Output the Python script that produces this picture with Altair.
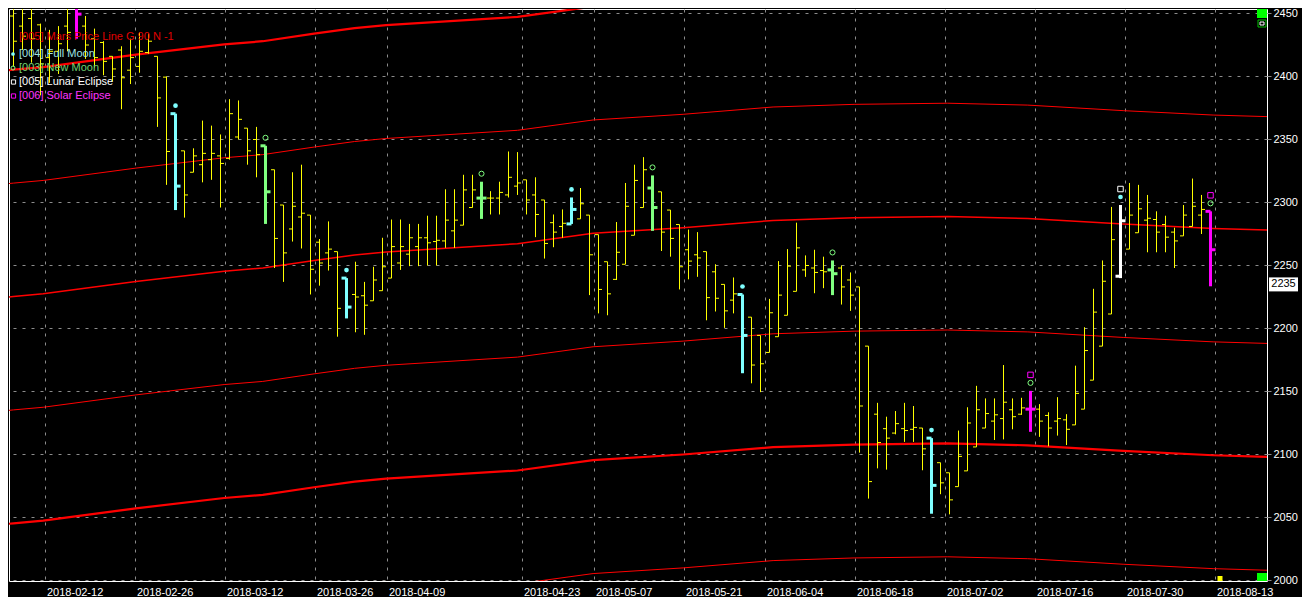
import altair as alt
import pandas as pd

# ---------------- data ----------------
opens = [2448, 2440, 2446, 2441, 2415, 2420, 2440, 2458, 2440, 2430,
         2427, 2416, 2421, 2405, 2408, 2419, 2416, 2399.5, 2370.5, 2341,
         2324, 2330, 2334, 2337, 2335, 2352, 2359, 2350, 2345, 2326,
         2298, 2279, 2288.5, 2290, 2268.5, 2260, 2261, 2240, 2227, 2226,
         2222, 2230, 2240, 2252, 2259, 2265, 2272, 2269, 2269.5, 2277.5,
         2282, 2296, 2303.5, 2303.5, 2303.5, 2306, 2313, 2318, 2306, 2302,
         2284, 2281, 2283, 2287, 2290, 2274.5, 2253, 2239, 2251, 2274,
         2296, 2311.5, 2308.5, 2294, 2282.5, 2262.5, 2258.5, 2261, 2245, 2235,
         2222.5, 2227, 2209, 2194.5, 2181, 2193.5, 2210.5, 2229.5, 2246.5, 2248,
         2246, 2246.5, 2248, 2238.5, 2233, 2186, 2132, 2120.5, 2117, 2120.5,
         2120, 2121, 2113, 2093.5, 2085.5, 2074.5, 2087, 2106, 2121, 2126.5,
         2128.5, 2135.5, 2132, 2136, 2136, 2131, 2126.5, 2127.5, 2123.5, 2136,
         2159, 2186, 2211.5, 2241.5, 2263, 2276, 2286, 2286.5, 2282.5, 2276.5,
         2273.5, 2281, 2290, 2293]
highs = [2462, 2460, 2462, 2442, 2437, 2440, 2458, 2465, 2448, 2438,
         2428, 2416, 2424, 2430, 2435, 2434, 2416, 2400, 2370.5, 2341,
         2343, 2365, 2361, 2354, 2382, 2381, 2359, 2360, 2345, 2326,
         2298, 2324, 2330, 2290, 2271, 2285, 2261, 2240, 2253, 2237,
         2249, 2272, 2286.5, 2286.5, 2283, 2283, 2289.5, 2289.5, 2310.5, 2310.5,
         2322, 2322, 2316.5, 2309, 2316.5, 2340.5, 2340, 2318, 2320, 2302,
         2290.5, 2294.5, 2304, 2311.5, 2290, 2274.5, 2253, 2284.5, 2315.5, 2330,
         2336, 2321.5, 2308.5, 2294, 2282.5, 2278.5, 2276.5, 2261, 2251, 2235,
         2240.5, 2227, 2209, 2194.5, 2223.5, 2253.5, 2263, 2284, 2258, 2262.5,
         2257, 2254, 2250, 2244.5, 2233, 2186, 2141, 2130, 2134.5, 2141,
         2138.5, 2121, 2113, 2093.5, 2085.5, 2119, 2137.5, 2154.5, 2144.5, 2144.5,
         2171, 2144.5, 2145, 2150.5, 2140, 2133.5, 2145.5, 2132, 2170.5, 2201,
         2231.5, 2254, 2296.5, 2298, 2315.5, 2314, 2306, 2293, 2289.5, 2280,
         2298, 2319, 2306, 2293]
lows = [2408, 2421, 2411, 2385, 2395, 2402, 2420, 2430, 2414, 2407,
        2401, 2396, 2374, 2394, 2403, 2418, 2360, 2314, 2294, 2288,
        2324, 2316, 2318, 2296, 2334, 2350, 2330, 2320, 2283, 2248,
        2237, 2269, 2263.5, 2227, 2234, 2246, 2193.5, 2208, 2197, 2195,
        2222, 2230, 2240, 2246.5, 2249.5, 2249.5, 2250, 2250, 2264, 2264,
        2282, 2296, 2287, 2290.5, 2290.5, 2304, 2306, 2290.5, 2272.5, 2255.5,
        2264.5, 2272, 2283, 2287, 2226.5, 2212, 2210.5, 2238.5, 2251, 2274,
        2296, 2277.5, 2261.5, 2257, 2231, 2239, 2241, 2206.5, 2213.5, 2200.5,
        2212, 2164.5, 2156.5, 2149.5, 2181, 2193.5, 2210.5, 2229.5, 2241, 2228,
        2232, 2226.5, 2219, 2214, 2101.5, 2065, 2089, 2088, 2116, 2110,
        2110, 2087.5, 2053, 2068.5, 2052.5, 2074.5, 2087, 2106, 2121, 2111.5,
        2112, 2120, 2131.5, 2118, 2114, 2106.5, 2115, 2107.5, 2123.5, 2136,
        2159, 2186, 2211.5, 2240, 2263, 2276, 2260.5, 2260.5, 2260.5, 2248,
        2273.5, 2281, 2275, 2233.5]
closes = [2428, 2432, 2430, 2410, 2420, 2426, 2435, 2449.5, 2425, 2415,
          2412, 2406, 2399, 2415, 2420, 2428, 2383, 2340.5, 2313, 2306,
          2337, 2339, 2339, 2331, 2370.5, 2366, 2341, 2338, 2308.5, 2271.5,
          2260, 2297, 2291.5, 2247, 2252, 2263, 2216, 2217, 2225, 2218.5,
          2238.5, 2249, 2265, 2265, 2272, 2272, 2268, 2270, 2286, 2286,
          2310, 2310, 2303.5, 2303.5, 2308, 2320, 2315.5, 2302, 2290.5, 2267.5,
          2276.5, 2283.5, 2294.5, 2299, 2258.5, 2231, 2227.5, 2260.5, 2297, 2317.5,
          2326, 2296, 2276.5, 2271.5, 2249, 2253.5, 2256, 2224.5, 2224, 2214,
          2227.5, 2194.5, 2171, 2172, 2212.5, 2226.5, 2249.5, 2264, 2250, 2244.5,
          2245, 2243.5, 2233, 2226.5, 2138.5, 2078.5, 2109.5, 2113, 2124.5, 2119,
          2121.5, 2104.5, 2075.5, 2077.5, 2064, 2098.5, 2125, 2135.5, 2132.5, 2131.5,
          2141.5, 2130, 2137, 2136, 2126.5, 2121, 2128.5, 2120, 2148.5, 2182.5,
          2213, 2237.5, 2270.5, 2285.5, 2290, 2295, 2287.5, 2276.5, 2272.5, 2269.5,
          2290, 2297, 2294.5, 2262.5]

# bar numbers carrying astro events
full_moon = [18, 37, 62, 81, 102, 123]
new_moon = [7, 28, 52, 71, 91, 113, 133]
solar_eclipse = [7, 113, 133]
lunar_eclipse = [123]

# date labels and the bar they start on
tick_bars = [4, 14, 24, 34, 42, 57, 65, 75, 84, 94, 104, 114, 124, 134]
tick_labels = ["2018-02-12", "2018-02-26", "2018-03-12", "2018-03-26", "2018-04-09",
               "2018-04-23", "2018-05-07", "2018-05-21", "2018-06-04", "2018-06-18",
               "2018-07-02", "2018-07-16", "2018-07-30", "2018-08-13"]
price_ticks = [2000, 2050, 2100, 2150, 2200, 2250, 2300, 2350, 2400, 2450]

# Mars price line: base curve (bar number, price) and its 90-point harmonics
mars_k = [-0.7, 0, 3.3, 13.6, 23.4, 27.7, 33.4, 37.9, 41.4, 56, 64.4, 74.4,
          84.4, 93.4, 103.8, 112.7, 123.3, 133.3, 141]
mars_base = [2044.9, 2045.4, 2047.5, 2057.3, 2065.5, 2068.0, 2074.0, 2078.4, 2080.8,
             2087.3, 2095.5, 2100.0, 2105.8, 2107.9, 2108.8, 2107.3, 2102.9, 2099.4, 2097.8]
mars_gap = 90
harmonics = [-1, 0, 1, 2, 3, 4]

last_price = 2235
future_bar = 134

legend_labels = ["[005] Mars Price Line G 90 N -1", "[004] Full Moon", "[003] New Moon",
                 "[005] Lunar Eclipse", "[006] Solar Eclipse"]

# ---------------- styling / layout ----------------
YELLOW = "#ffff00"
CYAN = "#7fffff"
GREEN = "#80ff80"
MAGENTA = "#ff00ff"
WHITE = "#ffffff"
RED = "#ff0000"
GRID = "#8c8c8c"
FONT = "Liberation Sans"

W, H = 1258, 572
x_lo = -0.5
x_hi = x_lo + W / 9.0
y_hi = 2450 + 4.5 / 1.26
y_lo = y_hi - H / 1.26

ks = list(range(len(opens)))


def kind(k):
    if k in solar_eclipse:
        return "solar"
    if k in lunar_eclipse:
        return "lunar"
    if k in full_moon:
        return "full"
    if k in new_moon:
        return "new"
    return "plain"


bars = pd.DataFrame({"k": ks, "open": opens, "high": highs, "low": lows, "close": closes})
bars["kind"] = [kind(k) for k in ks]
bars["full"] = bars["k"].isin(full_moon)
bars["new"] = bars["k"].isin(new_moon)
bars["solar"] = bars["k"].isin(solar_eclipse)
bars["lunar"] = bars["k"].isin(lunar_eclipse)

line_rows = []
for n in harmonics:
    for kk, b in zip(mars_k, mars_base):
        line_rows.append({"k": kk, "price": b + mars_gap * n, "n": n})
lines = pd.DataFrame(line_rows)

tick_vals = [k - 5.0 / 9.0 for k in tick_bars]
label_expr = ("[" + ",".join(repr(s) for s in tick_labels) + "][indexof(["
              + ",".join(repr(v) for v in tick_vals) + "], datum.value)]")

xscale = alt.Scale(domain=[x_lo, x_hi], nice=False, zero=False)
yscale = alt.Scale(domain=[y_lo, y_hi], nice=False, zero=False)
xaxis = alt.Axis(orient="bottom", values=tick_vals, labelExpr=label_expr, title=None,
                 grid=True, gridColor=GRID, gridDash=[3, 6], gridWidth=1,
                 ticks=False, domain=False, labelAlign="left", labelBaseline="top",
                 labelPadding=5, labelOffset=2, labelColor=WHITE, labelFont=FONT,
                 labelFontSize=11, labelFlush=False, labelOverlap=False)
yaxis = alt.Axis(orient="right", values=price_ticks, format="d", title=None, grid=True,
                 gridColor=GRID, gridDash=[3, 6], gridWidth=1, ticks=True,
                 tickColor=GRID, tickSize=4, domain=False, labelColor=WHITE,
                 labelFont=FONT, labelFontSize=11, labelPadding=2,
                 labelFlush=False, labelOverlap=False)


def X(f):
    return alt.X(f, type="quantitative", scale=xscale, axis=xaxis)


def Y(f):
    return alt.Y(f, type="quantitative", scale=yscale, axis=yaxis)


layers = []

# Mars price lines
for ns, w in [([-1, 1, 3], 1), ([2], 1.5), ([0, 4], 2.2)]:
    layers.append(
        alt.Chart(lines)
        .transform_filter(alt.FieldOneOfPredicate(field="n", oneOf=ns))
        .mark_line(color=RED, strokeWidth=w, clip=True)
        .encode(x=X("k"), y=Y("price"), detail="n:N", order="k:Q")
    )

# plain OHLC bars
base = alt.Chart(bars)
plain = base.transform_filter("datum.kind == 'plain'")
layers.append(plain.mark_rule(color=YELLOW, strokeWidth=1, clip=True)
              .encode(x=X("k"), y=Y("low"), y2="high"))
layers.append(plain.mark_rule(color=YELLOW, strokeWidth=1, clip=True, xOffset=-3.5, x2Offset=0)
              .encode(x=X("k"), x2="k", y=Y("open")))
layers.append(plain.mark_rule(color=YELLOW, strokeWidth=1, clip=True, xOffset=0, x2Offset=3.5)
              .encode(x=X("k"), x2="k", y=Y("close")))

# event bars (thick, coloured)
kinds = ["full", "new", "lunar", "solar"]
kind_colors = [CYAN, GREEN, WHITE, MAGENTA]
ev = base.transform_filter("datum.kind != 'plain'")
cenc = alt.Color("kind:N", scale=alt.Scale(domain=kinds, range=kind_colors), legend=None)
layers.append(ev.mark_rule(strokeWidth=3, clip=True)
              .encode(x=X("k"), y=Y("low"), y2="high", color=cenc))
layers.append(ev.mark_rule(strokeWidth=3, clip=True, xOffset=-5, x2Offset=0)
              .encode(x=X("k"), x2="k", y=Y("open"), color=cenc))
layers.append(ev.mark_rule(strokeWidth=3, clip=True, xOffset=0, x2Offset=5)
              .encode(x=X("k"), x2="k", y=Y("close"), color=cenc))

# event markers above the bars
layers.append(base.transform_filter("datum.full")
              .mark_point(shape="circle", filled=True, size=22, color=CYAN, opacity=1,
                          yOffset=-8, clip=True)
              .encode(x=X("k"), y=Y("high")))
layers.append(base.transform_filter("datum.new")
              .mark_point(shape="circle", filled=False, size=26, color=GREEN, opacity=1,
                          strokeWidth=1, yOffset=-8, clip=True)
              .encode(x=X("k"), y=Y("high")))
layers.append(base.transform_filter("datum.solar")
              .mark_point(shape="square", filled=False, size=30, color=MAGENTA, opacity=1,
                          strokeWidth=1, yOffset=-16, clip=True)
              .encode(x=X("k"), y=Y("high")))
layers.append(base.transform_filter("datum.lunar")
              .mark_point(shape="square", filled=False, size=30, color=WHITE, opacity=1,
                          strokeWidth=1, yOffset=-16, clip=True)
              .encode(x=X("k"), y=Y("high")))

# legend block (top-left)
one = pd.DataFrame({"a": [0]})
legend_y = [28, 45, 59, 73, 87]
legend_colors = ["#e00000", "#9fe3e3", "#70d070", WHITE, "#ff33ff"]
for lab, ly, lc in zip(legend_labels, legend_y, legend_colors):
    layers.append(alt.Chart(one).mark_text(align="left", baseline="middle", font=FONT,
                                           fontSize=11, color=lc)
                  .encode(x=alt.value(10), y=alt.value(ly), text=alt.value(lab)))
layers.append(alt.Chart(one).mark_point(shape="circle", filled=True, size=14, color=CYAN, opacity=1)
              .encode(x=alt.value(4), y=alt.value(legend_y[1])))
layers.append(alt.Chart(one).mark_point(shape="circle", filled=False, size=16, color=GREEN,
                                        opacity=1, strokeWidth=1)
              .encode(x=alt.value(4), y=alt.value(legend_y[2])))
layers.append(alt.Chart(one).mark_point(shape="square", filled=False, size=18, color=WHITE,
                                        opacity=1, strokeWidth=1)
              .encode(x=alt.value(4.5), y=alt.value(legend_y[3])))
layers.append(alt.Chart(one).mark_point(shape="square", filled=False, size=18, color=MAGENTA,
                                        opacity=1, strokeWidth=1)
              .encode(x=alt.value(4.5), y=alt.value(legend_y[4])))

# last price box on the price axis
layers.append(alt.Chart(one).mark_rect(color=WHITE, yOffset=-7, y2Offset=7)
              .encode(x=alt.value(W + 2), x2=alt.value(W + 31),
                      y=alt.YDatum(last_price, type="quantitative", scale=yscale, axis=yaxis),
                      y2=alt.Y2Datum(last_price)))
layers.append(alt.Chart(one).mark_text(color="#000000", align="center", baseline="middle",
                                       font=FONT, fontSize=11)
              .encode(x=alt.value(W + 16.5),
                      y=alt.YDatum(last_price, type="quantitative", scale=yscale, axis=yaxis),
                      text=alt.value(str(last_price))))

# chart chrome: green corner boxes and the next-bar marker
layers.append(alt.Chart(one).mark_rect(color="#00ff00")
              .encode(x=alt.value(W - 10), x2=alt.value(W), y=alt.value(0), y2=alt.value(9)))
layers.append(alt.Chart(one).mark_rect(fill="#000000", stroke="#00c000", strokeWidth=1)
              .encode(x=alt.value(W - 9), x2=alt.value(W - 1), y=alt.value(11), y2=alt.value(18)))
layers.append(alt.Chart(one).mark_rect(fill="#000000", stroke=WHITE, strokeWidth=1)
              .encode(x=alt.value(W - 7), x2=alt.value(W - 3), y=alt.value(13), y2=alt.value(16)))
layers.append(alt.Chart(one).mark_rect(color="#00ff00")
              .encode(x=alt.value(W - 10), x2=alt.value(W), y=alt.value(H - 8), y2=alt.value(H)))
layers.append(alt.Chart(one).mark_rect(color=YELLOW, xOffset=-2, x2Offset=3)
              .encode(x=alt.XDatum(future_bar, type="quantitative", scale=xscale, axis=xaxis),
                      x2=alt.X2Datum(future_bar), y=alt.value(H - 5), y2=alt.value(H)))

chart = (
    alt.layer(*layers)
    .properties(width=W, height=H, autosize=alt.AutoSizeParams(type="none"),
                padding={"left": 1, "top": 1, "right": 35, "bottom": 16})
    .configure(background="#000000")
    .configure_view(stroke=WHITE, strokeWidth=1, fill="#000000")
)

chart.save("out.html", embed_options={"renderer": "svg", "actions": False})
